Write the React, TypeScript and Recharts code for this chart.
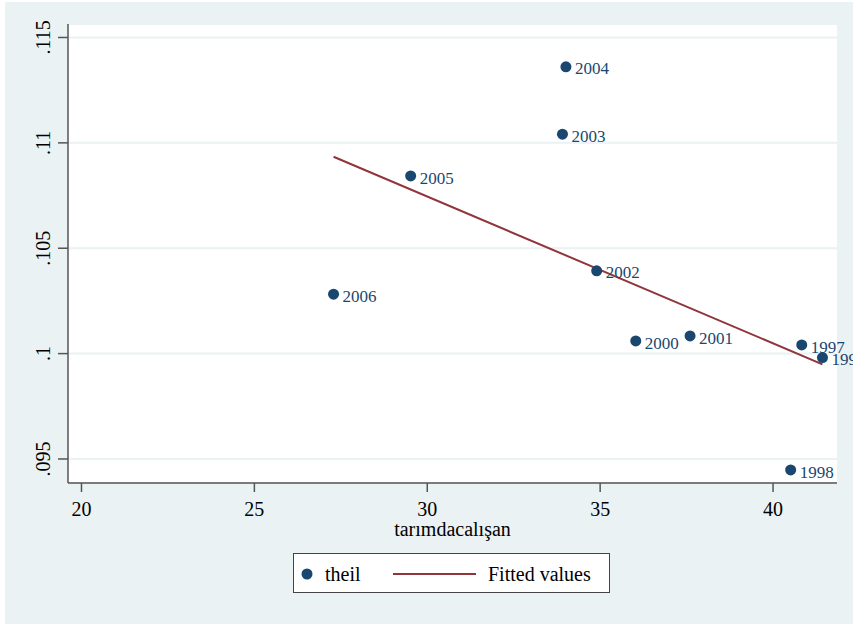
import React from 'react';
import { ScatterChart, Scatter, XAxis, YAxis, CartesianGrid, LabelList, Legend } from 'recharts';

// theil vs tarımdacalışan, one point per year
const years = ['2006', '2005', '2004', '2003', '2002', '2000', '2001', '1997', '1999', '1998'];
const tarim = [27.29, 29.52, 34.01, 33.91, 34.9, 36.03, 37.6, 40.83, 41.43, 40.51];
const theil = [0.10282, 0.10843, 0.11361, 0.11041, 0.10393, 0.1006, 0.10084, 0.10041, 0.09981, 0.09448];

// fitted values (linear fit), at min and max of x
const fitX = [27.29, 41.43];
const fitY = [0.10934, 0.09949];

const xTicks = [20, 25, 30, 35, 40];
const yTicks = [0.095, 0.1, 0.105, 0.11, 0.115];

const NAVY = '#1a476f';
const MAROON = '#90353b';
const BG = '#eaf2f3';
const FONT = '"Liberation Serif", "Times New Roman", serif';

const points = years.map((yr, i) => ({ x: tarim[i], y: theil[i], year: yr }));
const fitted = fitX.map((x, i) => ({ x, y: fitY[i] }));

const fmtY = (v: number) => String(v).replace(/^0/, '');

const YTick = ({ x, y, payload }: any) => (
    <text transform={`translate(${x},${y}) rotate(-90)`} textAnchor="middle" style={{ fontFamily: FONT, fontSize: 20 }} fill="#000">
        {fmtY(payload.value)}
    </text>
);

const XTick = ({ x, y, payload }: any) => (
    <text x={x} y={y} dy={14} textAnchor="middle" style={{ fontFamily: FONT, fontSize: 20 }} fill="#000">
        {payload.value}
    </text>
);

const Dot = (p: any) => <circle cx={p.cx} cy={p.cy} r={5.5} fill={NAVY} />;

const YearLabel = (props: any) => {
    const { x, y, width, height, value } = props;
    return (
        <text x={x + width / 2 + 9} y={y + height / 2} dy={7.6} style={{ fontFamily: FONT, fontSize: 17 }} fill={NAVY}>
            {value}
        </text>
    );
};

const LegendBox = () => (
    <div style={{ width: 315, height: 38, background: '#fff', border: '1px solid #444', position: 'relative' }}>
        <svg width={315} height={38} style={{ position: 'absolute', left: 0, top: 0 }}>
            <circle cx={13} cy={20} r={5.5} fill={NAVY} />
            <text x={31} y={27} style={{ fontFamily: FONT, fontSize: 20 }} fill="#000">theil</text>
            <line x1={99} x2={182} y1={20} y2={20} stroke={MAROON} strokeWidth={2} />
            <text x={194} y={27} style={{ fontFamily: FONT, fontSize: 20 }} fill="#000">Fitted values</text>
        </svg>
    </div>
);

export default function App() {
    return (
        <div style={{ position: 'absolute', left: 0, top: 0, width: 853, height: 624, fontFamily: FONT }}>
            <div style={{ position: 'absolute', left: 5, top: 2, width: 848, height: 622, background: BG }} />
            <div style={{ position: 'absolute', left: 0, top: 0 }}>
                <ScatterChart width={853} height={624} margin={{ top: 24, right: 16, left: 0, bottom: 101 }}>
                    <CartesianGrid fill="#fff" vertical={false} stroke={BG} strokeWidth={2} />
                    <XAxis
                        type="number"
                        dataKey="x"
                        domain={[19.61, 41.85]}
                        ticks={xTicks}
                        height={40}
                        tickSize={9}
                        tickMargin={10}
                        tick={<XTick />}
                        axisLine={{ stroke: '#555', strokeWidth: 1.5 }}
                        tickLine={{ stroke: '#555', strokeWidth: 1.5 }}
                        label={{ value: 'tarımdacalışan', position: 'bottom', offset: -1, fill: '#000', style: { fontFamily: FONT, fontSize: 20 } }}
                    />
                    <YAxis
                        type="number"
                        dataKey="y"
                        domain={[0.09386, 0.11564]}
                        ticks={yTicks}
                        width={68}
                        tickSize={10}
                        tickMargin={8}
                        tick={<YTick />}
                        axisLine={{ stroke: '#555', strokeWidth: 1.5 }}
                        tickLine={{ stroke: '#555', strokeWidth: 1.5 }}
                    />
                    <Legend
                        verticalAlign="middle"
                        align="center"
                        wrapperStyle={{ left: 293, top: 553, width: 317, height: 40 }}
                        content={() => <LegendBox />}
                    />
                    <Scatter data={fitted} name="Fitted values" fill="none" line={{ stroke: MAROON, strokeWidth: 2 }} shape={() => <g />} isAnimationActive={false} />
                    <Scatter data={points} name="theil" fill={NAVY} shape={<Dot />} isAnimationActive={false}>
                        <LabelList dataKey="year" content={<YearLabel />} />
                    </Scatter>
                </ScatterChart>
            </div>
        </div>
    );
}
